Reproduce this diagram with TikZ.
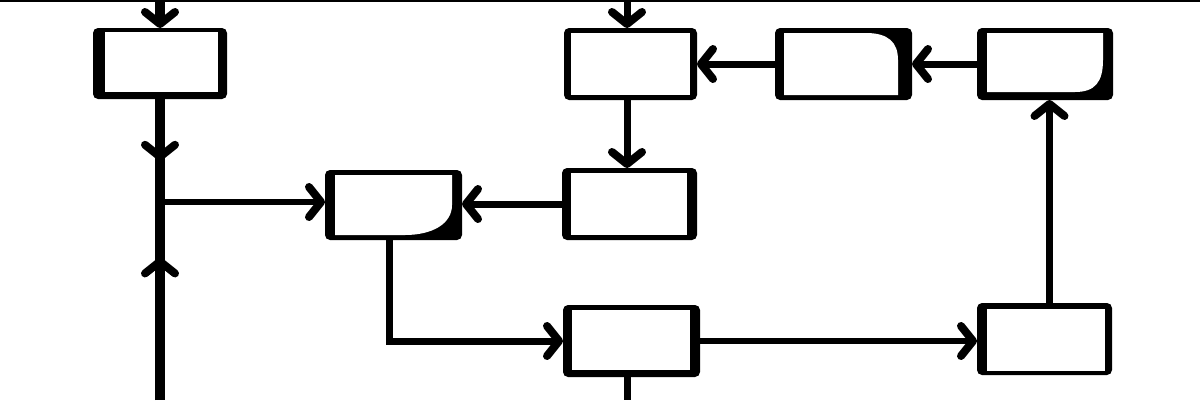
\documentclass[tikz,border=0pt]{standalone}
\usetikzlibrary{arrows.meta,decorations.markings}
\begin{document}
\begin{tikzpicture}[x=1pt,y=-1pt,
  boxnode/.style={fill=black, rounded corners=5pt, inner sep=0pt, outer sep=0pt},
  hole/.style={fill=white},
  barb/.tip={Straight Barb[length=12pt,width=30pt,line width=8pt,round]},
  plain/.style={line width=7pt},
  conn/.style={line width=7pt, -{barb}},
  thick line/.style={line width=10pt},
  midarrow/.style={postaction={decorate}, decoration={markings, mark=at position #1 with {\arrow{barb}}}}
]
\useasboundingbox (0,0) rectangle (1200,400);
\draw[line width=2pt] (0,1) -- (1200,1);

% boxes
\node[boxnode, minimum width=134pt, minimum height=71pt] (A) at (160,63.5) {};
\node[boxnode, minimum width=137pt, minimum height=70pt] (B) at (393.5,205) {};
\node[boxnode, minimum width=135pt, minimum height=72pt] (C) at (629.5,204) {};
\node[boxnode, minimum width=133pt, minimum height=72pt] (D) at (630.5,64) {};
\node[boxnode, minimum width=137pt, minimum height=72pt] (E) at (843.5,64) {};
\node[boxnode, minimum width=136pt, minimum height=72pt] (F) at (1045,64) {};
\node[boxnode, minimum width=137pt, minimum height=72pt] (G) at (631.5,341) {};
\node[boxnode, minimum width=135pt, minimum height=72pt] (H) at (1044.5,339) {};

% white interiors
\fill[hole] (105,32) rectangle (218,92);
\fill[hole] (335,175) -- (452,175) -- (452,205) .. controls (452,224) and (432,235) .. (405,235) -- (335,235) -- cycle;
\fill[hole] (571,173) rectangle (687,235);
\fill[hole] (571,33) rectangle (690,95);
\fill[hole] (784,33) -- (866,33) .. controls (888,33) and (898,42) .. (898,60) -- (898,95) -- (784,95) -- cycle;
\fill[hole] (987,33) -- (1103,33) -- (1103,60) .. controls (1103,82) and (1095,92) .. (1075,92) -- (987,92) -- cycle;
\fill[hole] (572,310) rectangle (690,370);
\fill[hole] (987,309) rectangle (1105,371);

% free ends
\coordinate (tA) at (160,0);
\coordinate (tD) at (627,0);
\coordinate (J) at (160,202);
\coordinate (bJ) at (160,400);
\coordinate (bG) at (627,400);

% connectors
\draw[thick line, -{barb}] (tA) -- (A.north);
\draw[thick line, midarrow=0.6] (A.south) -- (J);
\draw[thick line, midarrow=0.72] (bJ) -- (J);
\draw[line width=6pt, -{barb}] (J) -- (J -| B.west);
\draw[conn] (C.west) -- (C.west -| B.east);
\draw[conn] (tD) -- (tD |- D.north);
\draw[conn] (tD |- D.south) -- (tD |- C.north);
\draw[conn] (E.west) -- (D.east);
\draw[conn] (F.west) -- (E.east);
\draw[conn] ([xshift=-4pt]B.south) |- (G.west);
\draw[plain] (bG |- G.south) -- (bG);
\draw[line width=6pt, -{barb}] (G.east) -- (G.east -| H.west);
\draw[conn] ([xshift=5pt]H.north) -- ([xshift=5pt]H.north |- F.south);
\end{tikzpicture}
\end{document}
